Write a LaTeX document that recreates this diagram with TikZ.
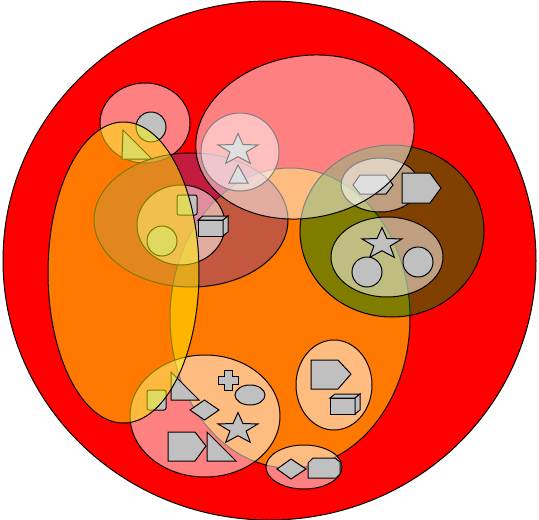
\documentclass[tikz,border=0pt]{standalone}
\definecolor{itemgray}{RGB}{192,192,192}
\definecolor{setpurple}{RGB}{136,56,124}
\definecolor{setgreen}{RGB}{0,128,0}
% five-point star, a bit flatter than wide
\newcommand{\starat}[2]{%
  \draw[item] plot[samples at={0,...,9}, variable=\k]
    ({#1 + (mod(\k,2)==0 ? 21 : 8.5)*cos(90+36*\k)},
     {#2 - (mod(\k,2)==0 ? 16.5 : 6.7)*sin(90+36*\k)}) -- cycle;}

\begin{document}
\begin{tikzpicture}[x=1pt, y=-1pt, line width=1pt,
    zone/.style={draw=black, fill opacity=0.5},
    item/.style={draw=black, fill=itemgray}]
  \useasboundingbox (0,0) rectangle (539,520);

  % outer set
  \draw[fill=red] (269.5,260.5) ellipse (266.5 and 259.5);

  % big yellow set on the right
  \draw[zone, fill=yellow] (290,318) ellipse (120 and 150);

  % small set top left
  \draw[zone, fill=white] (145,123) ellipse (45 and 40);
  \draw[item] (151,127) circle (15);
  \draw[item] (123,130) -- (122,159) -- (152,159) -- cycle;

  % purple set and the set inside it
  \draw[zone, fill=setpurple] (191,220) ellipse (97 and 67);
  \draw[zone, fill=white] (181,225) ellipse (44 and 40);
  \draw[item, rounded corners=2] (177,195) rectangle (197,215);
  \draw[item] (162,241) circle (15);
  \draw[item] (198,220) rectangle (223,236);
  \draw[item] (198,220) -- (203,216) -- (228,216) -- (223,220) -- cycle;
  \draw[item] (223,220) -- (228,216) -- (228,232) -- (223,236) -- cycle;

  % lower set
  \draw[zone, fill=white] (205,416) ellipse (75 and 61);
  \draw[item, rounded corners=2] (147,390) rectangle (166,410);
  \draw[item] (171,372) -- (171,400) -- (199,400) -- cycle;
  \draw[item] (190,410) -- (204.5,400) -- (219,410) -- (204.5,420) -- cycle;
  \draw[item] (224,370) -- (232,370) -- (232,376) -- (238,376) -- (238,384) -- (232,384)
    -- (232,390) -- (224,390) -- (224,384) -- (218,384) -- (218,376) -- (224,376) -- cycle;
  \draw[item] (250,395) ellipse (15 and 10);
  \starat{238}{429}
  \draw[item] (168,432) -- (195,432) -- (206,446) -- (195,461) -- (168,461) -- cycle;
  \draw[item] (207,432) -- (207,461) -- (236,461) -- cycle;

  % set right of it
  \draw[zone, fill=white] (334,385) ellipse (38 and 45);
  \draw[item] (311,360) -- (338,360) -- (351,374) -- (338,389) -- (311,389) -- cycle;
  \draw[item] (330,398) rectangle (355,414);
  \draw[item] (330,398) -- (335,394) -- (360,394) -- (355,398) -- cycle;
  \draw[item] (355,398) -- (360,394) -- (360,410) -- (355,414) -- cycle;

  % set at the bottom
  \draw[zone, fill=white] (304,467) ellipse (38 and 22);
  \draw[item] (277,469) -- (291,459) -- (306,469) -- (291,479) -- cycle;
  \draw[item] (313,458) -- (335,458) -- (340,462) -- (340,474) -- (336,478) -- (308,478)
    -- (308,463) -- cycle;

  % green set and its two inner sets
  \draw[zone, fill=setgreen] (392,231) ellipse (92 and 86);
  \draw[zone, fill=white] (380,185) ellipse (39 and 27);
  \draw[item] (353,185) -- (360,175) -- (386,175) -- (393,185) -- (386,194) -- (360,194) -- cycle;
  \draw[item] (402,173) -- (430,173) -- (441,188) -- (430,203) -- (402,203) -- cycle;
  \draw[zone, fill=white] (387,257) ellipse (56 and 40);
  \starat{382}{244}
  \draw[item] (367,272) circle (15);
  \draw[item] (418,262) circle (15);

  % star set
  \draw[zone, fill=white] (240,152) circle (39);
  \starat{238}{150}
  \draw[item] (238,165) -- (229,183) -- (248,183) -- cycle;

  % tall yellow set on the left
  \draw[zone, fill=yellow] (123.5,272.5) ellipse (75.5 and 150.5);

  % big set at the top
  \draw[zone, fill=white, rotate around={10:(305,137)}] (305,137) ellipse (110 and 81);
\end{tikzpicture}
\end{document}
